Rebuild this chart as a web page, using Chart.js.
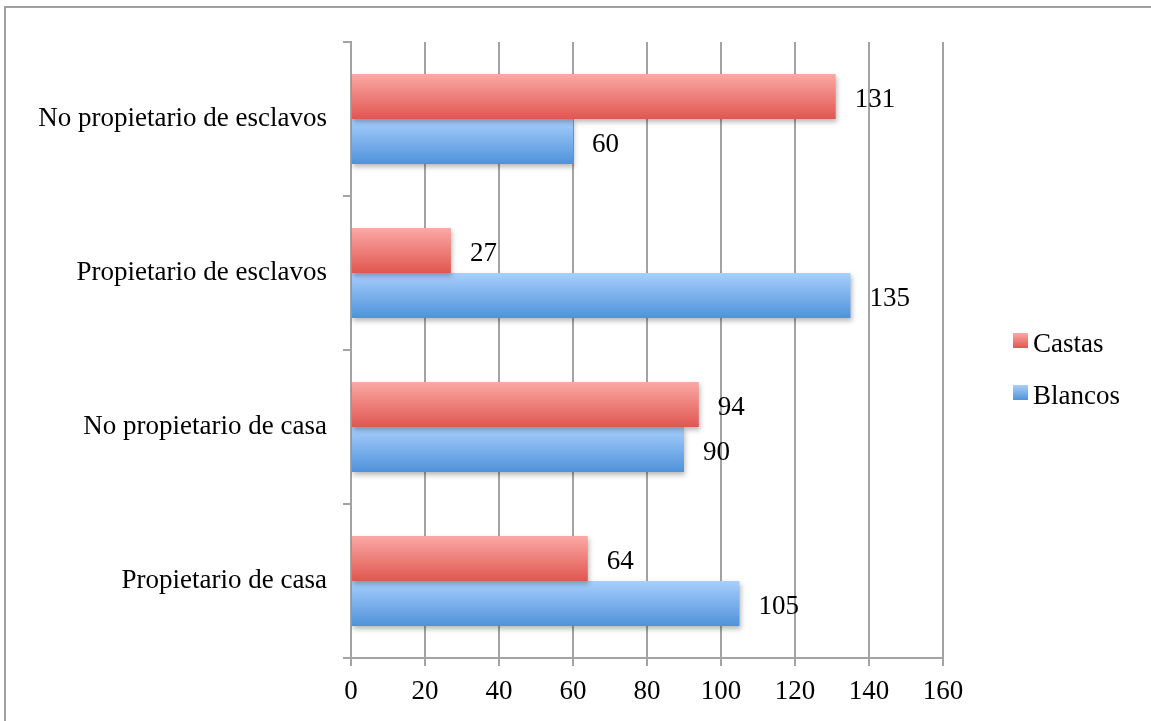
<!DOCTYPE html>
<html>
<head>
<meta charset="utf-8">
<script src="https://cdn.jsdelivr.net/npm/chart.js@4/dist/chart.umd.min.js"></script>
<style>
  html, body { margin: 0; padding: 0; background: #fff; }
  #wrap { position: relative; width: 1151px; height: 721px; }
</style>
</head>
<body>
<div id="wrap"><canvas id="chart"></canvas></div>
<script>
// data
const categories = ['No propietario de esclavos', 'Propietario de esclavos', 'No propietario de casa', 'Propietario de casa'];
const castas = [131, 27, 94, 64];
const blancos = [60, 135, 90, 105];
const seriesNames = ['Castas', 'Blancos'];
const xMax = 160;
const xStep = 20;

const FONT = "'Liberation Serif', 'Times New Roman', serif";
const GRID = '#a3a3a3';
const CAT_PCT = 0.584;

// vertical gradient per bar, follows the bar's own position on the y scale
function barGradient(top, bottom) {
  return (ctx) => {
    const chart = ctx.chart;
    const y = chart.scales.y;
    if (!chart.chartArea || !y || ctx.dataIndex === undefined) return bottom;
    const center = y.getPixelForValue(ctx.dataIndex);
    const band = y.height / categories.length;
    const h = band * CAT_PCT / 2;
    const y0 = ctx.datasetIndex === 0 ? center - h : center;
    const g = chart.ctx.createLinearGradient(0, y0, 0, y0 + h);
    g.addColorStop(0, top);
    g.addColorStop(1, bottom);
    return g;
  };
}

const shadowPlugin = {
  id: 'barShadow',
  beforeDatasetsDraw(chart) {
    const c = chart.ctx;
    c.save();
    c.shadowColor = 'rgba(0,0,0,0.28)';
    c.shadowBlur = 5;
    c.shadowOffsetX = 1;
    c.shadowOffsetY = 3;
  },
  afterDatasetsDraw(chart) {
    chart.ctx.restore();
  }
};

const valueLabels = {
  id: 'valueLabels',
  afterDatasetsDraw(chart) {
    const c = chart.ctx;
    c.save();
    c.font = '27px ' + FONT;
    c.fillStyle = '#000';
    c.textAlign = 'left';
    c.textBaseline = 'middle';
    chart.data.datasets.forEach((ds, di) => {
      chart.getDatasetMeta(di).data.forEach((bar, i) => {
        c.fillText(String(ds.data[i]), bar.x + 19, bar.y + 3);
      });
    });
    c.restore();
  }
};

const frameAndLegend = {
  id: 'frameAndLegend',
  afterDraw(chart) {
    const c = chart.ctx;
    c.save();
    // outer frame: top and left edges only show in the picture
    c.strokeStyle = '#a0a0a0';
    c.lineWidth = 2;
    c.beginPath();
    c.moveTo(5, 721);
    c.lineTo(5, 7);
    c.lineTo(1151, 7);
    c.stroke();

    // legend
    const items = [
      { label: seriesNames[0], top: '#fba9a5', bottom: '#e05650', y: 344 },
      { label: seriesNames[1], top: '#a8cffd', bottom: '#4f92da', y: 396 }
    ];
    c.font = '27px ' + FONT;
    c.textBaseline = 'middle';
    c.fillStyle = '#000';
    items.forEach(it => {
      const g = c.createLinearGradient(0, it.y - 11, 0, it.y + 4);
      g.addColorStop(0, it.top);
      g.addColorStop(1, it.bottom);
      c.fillStyle = g;
      c.fillRect(1013, it.y - 11, 15, 15);
      c.fillStyle = '#000';
      c.fillText(it.label, 1033, it.y + 1);
    });
    c.restore();
  }
};

new Chart(document.getElementById('chart'), {
  type: 'bar',
  data: {
    labels: categories,
    datasets: [
      {
        label: seriesNames[0],
        data: castas,
        backgroundColor: barGradient('#fba9a5', '#e05650'),
        categoryPercentage: CAT_PCT,
        barPercentage: 1
      },
      {
        label: seriesNames[1],
        data: blancos,
        backgroundColor: barGradient('#a8cffd', '#4f92da'),
        categoryPercentage: CAT_PCT,
        barPercentage: 1
      }
    ]
  },
  options: {
    indexAxis: 'y',
    responsive: true,
    maintainAspectRatio: false,
    animation: false,
    layout: { padding: { left: 0, top: 42, right: 208, bottom: 0 } },
    plugins: {
      legend: { display: false },
      tooltip: { enabled: false }
    },
    scales: {
      x: {
        min: 0,
        max: xMax,
        ticks: {
          stepSize: xStep,
          padding: 10,
          color: '#000',
          font: { family: FONT, size: 27 }
        },
        grid: { color: GRID, lineWidth: 2, tickLength: 8 },
        border: { color: GRID, width: 2 },
        afterFit(scale) { scale.height = 63; }
      },
      y: {
        ticks: {
          padding: 16,
          color: '#000',
          font: { family: FONT, size: 27 }
        },
        grid: { drawOnChartArea: false, color: GRID, lineWidth: 2, tickLength: 8 },
        border: { color: GRID, width: 2 },
        afterFit(scale) { scale.width = 351; }
      }
    }
  },
  plugins: [shadowPlugin, valueLabels, frameAndLegend]
});
</script>
</body>
</html>
